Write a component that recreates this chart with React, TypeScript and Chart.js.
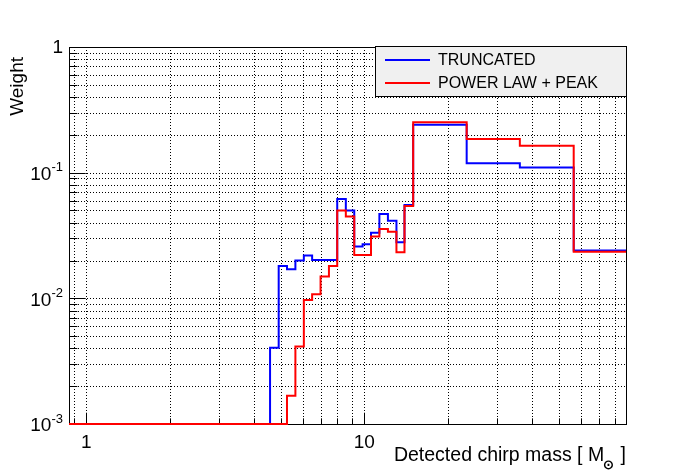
import React, { useEffect, useRef } from 'react';
import { Chart, registerables } from 'chart.js';

Chart.register(...registerables);

// ---- Data ----
const binEdges = [0.866, 4.58, 4.92, 5.27, 5.65, 6.06, 6.49, 6.96, 7.46, 7.99, 8.58, 9.2, 9.86, 10.57, 11.33, 12.16, 13.05, 13.95, 14.99, 23.35, 36.27, 56.67, 87.4];
const truncatedWeights = [0, 0.00405, 0.0181, 0.017, 0.02, 0.0219, 0.0202, 0.0202, 0.0202, 0.0618, 0.0499, 0.0258, 0.0269, 0.0333, 0.0469, 0.0415, 0.0279, 0.0553, 0.241, 0.119, 0.11, 0.024];
const powerLawPeakWeights = [0, 0, 0, 0.00168, 0.00413, 0.0097, 0.0108, 0.0149, 0.0181, 0.0499, 0.0447, 0.0221, 0.0221, 0.031, 0.0357, 0.0339, 0.0233, 0.0543, 0.252, 0.185, 0.164, 0.0235];
const seriesLabels = ['TRUNCATED', 'POWER LAW + PEAK'];
const xTickValues = [0.9, 1, 2, 3, 4, 5, 6, 7, 8, 9, 10, 20, 30, 40, 50, 60, 70, 80];
const xLabeledTicks = [1, 10];
const yTickValues = [0.001, 0.002, 0.003, 0.004, 0.005, 0.006, 0.007, 0.008, 0.009, 0.01, 0.02, 0.03, 0.04, 0.05, 0.06, 0.07, 0.08, 0.09, 0.1, 0.2, 0.3, 0.4, 0.5, 0.6, 0.7, 0.8, 0.9, 1];
const yLabeledTicks = [1, 0.1, 0.01, 0.001];
const X_MIN = 0.866;
const X_MAX = 87.4;
const Y_MIN = 0.001;
const Y_MAX = 1;
const xTitle = 'Detected chirp mass [ M';
const xTitleSub = '⊙';
const xTitleEnd = ' ]';
const yTitle = 'Weight';

const FONT = '"Liberation Sans", Arial, Helvetica, sans-serif';
const f = (s: number) => `${s}px ${FONT}`;

function histPoints(values: number[]) {
  const pts = values.map((v, i) => ({ x: binEdges[i], y: Math.max(v, Y_MIN) }));
  pts.push({ x: binEdges[binEdges.length - 1], y: Math.max(values[values.length - 1], Y_MIN) });
  return pts;
}

const rootPlugin = {
  id: 'rootStyle',
  beforeDatasetsDraw(chart: any) {
    const { ctx, chartArea: a, scales } = chart;
    const x = scales.x, y = scales.y;
    ctx.save();
    ctx.strokeStyle = '#000';
    ctx.lineWidth = 1;
    ctx.setLineDash([1, 2]);
    x.ticks.forEach((t: any) => {
      const px = Math.round(x.getPixelForValue(t.value)) + 0.5;
      if (px <= a.left + 1 || px >= a.right - 1) return;
      ctx.beginPath();
      ctx.moveTo(px, a.top);
      ctx.lineTo(px, a.bottom);
      ctx.stroke();
    });
    y.ticks.forEach((t: any) => {
      const py = Math.round(y.getPixelForValue(t.value)) + 0.5;
      if (py <= a.top + 1 || py >= a.bottom - 1) return;
      ctx.beginPath();
      ctx.moveTo(a.left, py);
      ctx.lineTo(a.right, py);
      ctx.stroke();
    });
    ctx.setLineDash([]);
    // frame
    ctx.strokeRect(a.left + 0.5, a.top + 0.5, a.right - a.left, a.bottom - a.top);
    // x ticks (inside)
    const xMajorLen = 0.03 * (a.bottom - a.top);
    x.ticks.forEach((t: any) => {
      const px = Math.round(x.getPixelForValue(t.value)) + 0.5;
      const major = xLabeledTicks.includes(t.value);
      const len = major ? xMajorLen : xMajorLen / 2;
      ctx.beginPath();
      ctx.moveTo(px, a.bottom);
      ctx.lineTo(px, a.bottom - len);
      ctx.stroke();
    });
    const yMajorLen = 0.03 * (a.right - a.left);
    y.ticks.forEach((t: any) => {
      const py = Math.round(y.getPixelForValue(t.value)) + 0.5;
      const major = yLabeledTicks.includes(t.value);
      const len = major ? yMajorLen : yMajorLen / 2;
      ctx.beginPath();
      ctx.moveTo(a.left, py);
      ctx.lineTo(a.left + len, py);
      ctx.stroke();
    });
    ctx.restore();
  },
  afterDatasetsDraw(chart: any) {
    const { ctx, chartArea: a, scales } = chart;
    const x = scales.x, y = scales.y;
    ctx.save();
    ctx.setLineDash([]);
    // labels
    ctx.fillStyle = '#000';
    yLabeledTicks.forEach((v) => {
      const py = y.getPixelForValue(v);
      const e = Math.round(Math.log10(v));
      ctx.textAlign = 'right';
      ctx.textBaseline = 'middle';
      const rx = a.left - 6;
      if (e === 0) {
        ctx.font = f(19);
        ctx.fillText('1', rx, py + 1);
      } else {
        const sup = String(e);
        ctx.font = f(13);
        const sw = ctx.measureText(sup).width;
        ctx.fillText(sup, rx, py - 5);
        ctx.font = f(19);
        ctx.fillText('10', rx - sw, py + 2);
      }
    });
    xLabeledTicks.forEach((v) => {
      const px = x.getPixelForValue(v);
      ctx.font = f(19);
      ctx.textAlign = 'center';
      ctx.textBaseline = 'top';
      ctx.fillText(String(v), px, a.bottom + 9);
    });
    // x title
    ctx.textBaseline = 'alphabetic';
    ctx.textAlign = 'left';
    ctx.font = f(19.5);
    const w1 = ctx.measureText(xTitle).width;
    const w3 = ctx.measureText(xTitleEnd).width;
    ctx.font = f(13);
    const w2 = ctx.measureText(xTitleSub).width;
    const x0 = a.right - (w1 + w2 + w3);
    const base = a.bottom + 37;
    ctx.font = f(19.5);
    ctx.fillText(xTitle, x0, base);
    ctx.font = 'bold ' + f(13);
    ctx.fillText(xTitleSub, x0 + w1 - 1, base + 8);
    ctx.font = f(19.5);
    ctx.fillText(xTitleEnd, x0 + w1 + w2, base);
    // y title
    ctx.save();
    ctx.translate(18, a.top + 10);
    ctx.rotate(-Math.PI / 2);
    ctx.font = f(19);
    ctx.textAlign = 'right';
    ctx.textBaseline = 'middle';
    ctx.fillText(yTitle, 0, 0);
    ctx.restore();
    // legend
    const lx0 = 375.5, ly0 = a.top - 0.5, lx1 = a.right + 0.5, ly1 = 96.5;
    ctx.fillStyle = '#f0f0f0';
    ctx.fillRect(lx0, ly0, lx1 - lx0, ly1 - ly0);
    ctx.strokeStyle = '#000';
    ctx.lineWidth = 1;
    ctx.strokeRect(lx0, ly0, lx1 - lx0, ly1 - ly0);
    const rows = [60, 83];
    chart.data.datasets.forEach((d: any, i: number) => {
      ctx.strokeStyle = d.borderColor;
      ctx.lineWidth = 2;
      ctx.beginPath();
      ctx.moveTo(385, rows[i]);
      ctx.lineTo(430, rows[i]);
      ctx.stroke();
      ctx.fillStyle = '#000';
      ctx.font = f(16);
      ctx.textAlign = 'left';
      ctx.textBaseline = 'middle';
      ctx.fillText(d.label, 438, rows[i] + 1);
    });
    ctx.restore();
  },
};

export default function App() {
  const ref = useRef<HTMLCanvasElement | null>(null);
  useEffect(() => {
    if (!ref.current) return;
    const chart = new Chart(ref.current, {
      type: 'line',
      data: {
        datasets: [
          {
            label: seriesLabels[0],
            data: histPoints(truncatedWeights),
            borderColor: '#0000ff',
            borderWidth: 2,
            stepped: 'before',
            pointRadius: 0,
            fill: false,
            clip: { left: 0, right: 0, top: 0, bottom: 2 },
            order: 1,
          },
          {
            label: seriesLabels[1],
            data: histPoints(powerLawPeakWeights),
            borderColor: '#ff0000',
            borderWidth: 2,
            stepped: 'before',
            pointRadius: 0,
            fill: false,
            clip: { left: 0, right: 0, top: 0, bottom: 2 },
            order: 0,
          },
        ],
      },
      options: {
        animation: false,
        responsive: false,
        layout: { padding: { left: 0, top: 47, right: 70, bottom: 0 } },
        plugins: { legend: { display: false }, tooltip: { enabled: false } },
        scales: {
          x: {
            type: 'logarithmic',
            min: X_MIN,
            max: X_MAX,
            bounds: 'data',
            grid: { display: false },
            border: { display: false },
            ticks: { display: false },
            afterBuildTicks: (s: any) => {
              s.ticks = xTickValues.map((v) => ({ value: v }));
            },
            afterFit: (s: any) => {
              s.height = 48;
            },
          },
          y: {
            type: 'logarithmic',
            min: Y_MIN,
            max: Y_MAX,
            bounds: 'data',
            grid: { display: false },
            border: { display: false },
            ticks: { display: false },
            afterBuildTicks: (s: any) => {
              s.ticks = yTickValues.map((v) => ({ value: v }));
            },
            afterFit: (s: any) => {
              s.width = 69;
            },
          },
        },
      } as any,
      plugins: [rootPlugin],
    });
    return () => chart.destroy();
  }, []);
  return (
    <canvas
      ref={ref}
      width={696}
      height={472}
      style={{ display: 'block', position: 'fixed', left: 0, top: 0, background: '#fff' }}
    />
  );
}
